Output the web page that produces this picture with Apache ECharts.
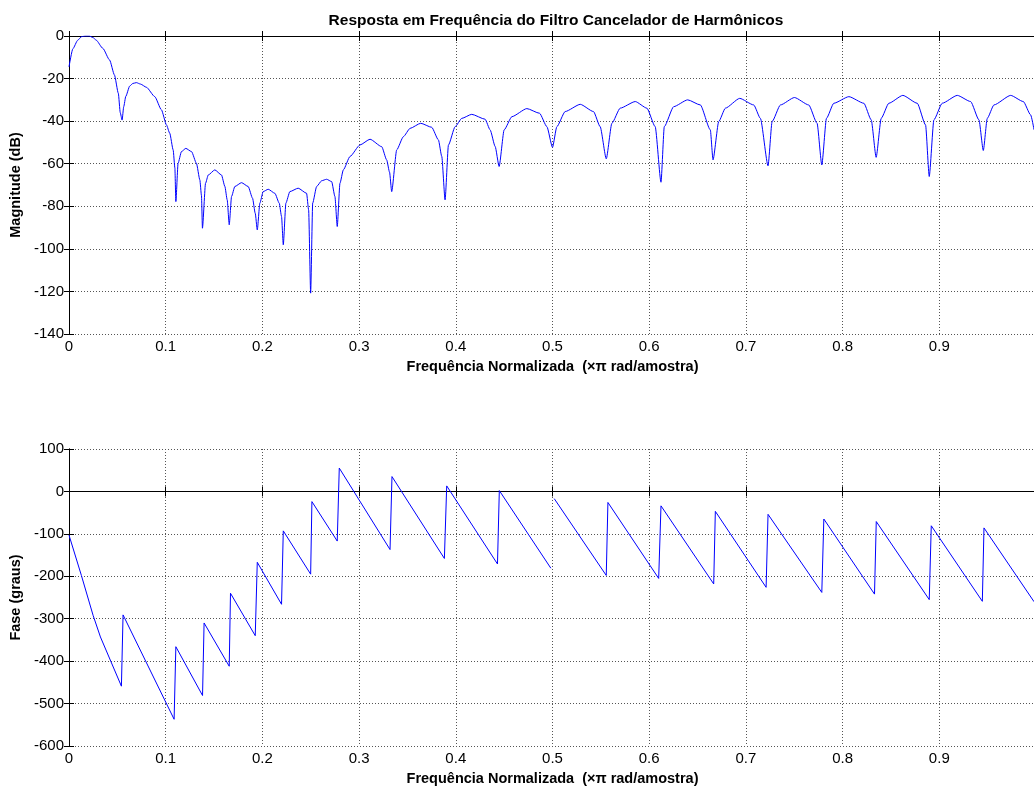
<!DOCTYPE html>
<html>
<head>
<meta charset="utf-8">
<script src="https://cdn.jsdelivr.net/npm/echarts@6/dist/echarts.min.js"></script>
<style>
  html, body { margin: 0; padding: 0; background: #fff; overflow: hidden; }
  /* wider than the window: the plot box runs past the right edge, as in the original */
  #chart { width: 1044px; height: 787px; }
</style>
</head>
<body>
<div id="chart"></div>
<script>
// Magnitude response (normalized freq x pi rad/sample, dB)
const magFreq = [
  0.000, 0.004, 0.009, 0.013, 0.017, 0.021, 0.025, 0.028, 0.035, 0.042, 0.047, 0.051, 0.053, 0.0549,
  0.0566, 0.0587, 0.0628, 0.066, 0.0697, 0.074, 0.0801, 0.0887, 0.0956, 0.1008, 0.1042, 0.1077, 0.1095, 0.1105,
  0.1128, 0.1163, 0.1208, 0.1267, 0.1318, 0.1353, 0.137, 0.138,
  0.1412, 0.144, 0.1508, 0.1577, 0.1612, 0.1636, 0.1657,
  0.1681, 0.1715, 0.1784, 0.1853, 0.1898, 0.1926, 0.1947,
  0.1974, 0.2008, 0.206, 0.2129, 0.2174, 0.2198, 0.2216,
  0.2243, 0.2284, 0.237, 0.2457, 0.2478, 0.2499,
  0.252, 0.2561, 0.2613, 0.2664, 0.2716, 0.275, 0.2774,
  0.2802, 0.2837, 0.2906, 0.3009, 0.3113, 0.3234, 0.3285, 0.3315, 0.3337,
  0.3389, 0.3458, 0.3527, 0.3637, 0.3751, 0.382, 0.3855, 0.3889,
  0.3924, 0.3993, 0.4062, 0.4165, 0.4303, 0.4355, 0.4407, 0.4448,
  0.45, 0.458, 0.4735, 0.4866, 0.4942, 0.5,
  0.5045, 0.5131, 0.5287, 0.5424, 0.5493, 0.5556,
  0.5614, 0.57, 0.5856, 0.5976, 0.6062, 0.6122,
  0.6156, 0.6253, 0.6398, 0.6529, 0.6632, 0.666,
  0.6719, 0.6788, 0.6936, 0.7081, 0.715, 0.7229,
  0.7271, 0.7357, 0.7502, 0.765, 0.7736, 0.7785,
  0.7833, 0.7909, 0.8065, 0.822, 0.8296, 0.8347,
  0.8399, 0.8478, 0.8623, 0.8772, 0.8858, 0.8896,
  0.8944, 0.903, 0.9186, 0.9324, 0.941, 0.9455,
  0.9496, 0.9565, 0.9738, 0.9869, 0.9945, 0.998
]
const magDb = [
  -14.5, -6, -2, -0.3, 0, 0, -0.8, -1.9, -5.8, -11.3, -18.3, -26.9, -36, -39.5,
  -33.2, -28.4, -23.5, -22.3, -21.9, -22.6, -24.1, -28.5, -34.7, -41.8, -45.7, -53.5, -62, -77.8,
  -59.8, -54.3, -52.8, -54.3, -59.8, -67.6, -75, -90.3,
  -69.2, -65.3, -62.9, -65.3, -70.7, -77, -88.7,
  -75.4, -70.7, -68.9, -70.7, -76.2, -83.3, -91.1,
  -78.5, -73.1, -72, -73.9, -78.5, -84.8, -98.1,
  -78.5, -73.1, -71.5, -73.9, -81.7, -120.8,
  -78.5, -70.7, -68, -67.3, -68.4, -75.4, -89.5,
  -69.2, -62.9, -56.6, -51.2, -48.5, -52, -58.2, -64, -73.1,
  -53.5, -47.3, -43.4, -41, -42.9, -48.8, -56.6, -77,
  -51.2, -42.6, -38.7, -36.8, -39.1, -44.1, -51.9, -61.3,
  -44.1, -37.9, -34.1, -36.3, -42.6, -52.3,
  -42.6, -35.5, -32.1, -35.5, -42.6, -57.7,
  -41, -33.9, -30.8, -33.9, -42.6, -68.7,
  -42.6, -33.2, -30, -32.4, -44.1, -58.2,
  -40.2, -33.9, -29.3, -32.4, -38.7, -61,
  -40.2, -32.4, -28.9, -32.4, -41, -60.6,
  -38.7, -31.6, -28.5, -31.6, -39.4, -57,
  -38.7, -31.6, -27.9, -31.6, -41.8, -66,
  -39.4, -31.6, -27.9, -30.8, -39.4, -53.8,
  -38.7, -32.4, -27.9, -30.8, -37.1, -44.1
]

// Phase response (degrees); null = break in the curve
const phaseFreq = [
  0, 0.0128, 0.0249, 0.0325, 0.0542, 0.0559, 0.1087, 0.1105, 0.1381, 0.1397, 0.1657,
  0.167, 0.1926, 0.1947, 0.2198, 0.2216, 0.2499, 0.2512, 0.2774, 0.2795, 0.332,
  0.334, 0.3882, 0.3906, 0.4431, 0.445, 0.4983, 0.5, 0.5018, 0.5556, 0.5573,
  0.6098, 0.6122, 0.6667, 0.6684, 0.7209, 0.7229, 0.7785, 0.7806, 0.833, 0.8348,
  0.8896, 0.8917, 0.9445, 0.9462, 0.998
]
const phaseDeg = [
  -103, -198, -292, -343, -459, -291, -537, -366, -481, -310, -412,
  -240, -340, -167, -266, -93, -195, -24, -117, 55, -137,
  35, -158, 13, -171, 2, -181, null, -17, -198, -26,
  -205, -34, -218, -47, -226, -54, -238, -65, -242, -71,
  -255, -81, -259, -86, -260
]

const title = 'Resposta em Frequência do Filtro Cancelador de Harmônicos'
const xName = 'Frequência Normalizada  (×π rad/amostra)'
const magName = 'Magnitude (dB)'
const phaseName = 'Fase (graus)'

const font = 'Liberation Sans, Arial, sans-serif'
const gridLine = { show: true, lineStyle: { color: '#555', type: [1, 2], width: 1 } }
const axisLine = { show: true, lineStyle: { color: '#000', width: 1 } }
const tick = { show: true, inside: true, length: 5, lineStyle: { color: '#000' } }
const nameStyle = { fontFamily: font, fontSize: 14.5, fontWeight: 'bold', color: '#000' }

function bottomX (gridIndex) {
  return {
    type: 'value', gridIndex, min: 0, max: 1, interval: 0.1, position: 'bottom',
    name: xName, nameLocation: 'middle', nameGap: 25, nameTextStyle: nameStyle,
    axisLine, axisTick: tick, splitLine: gridLine,
    axisLabel: {
      fontFamily: font, fontSize: 15, color: '#000', margin: 5,
      formatter: v => (v > 0.95 ? '' : String(+v.toFixed(1))),
    },
  }
}
function topX (gridIndex) {
  return {
    type: 'value', gridIndex, min: 0, max: 1, interval: 0.1, position: 'top',
    axisLine, axisTick: tick, axisLabel: { show: false }, splitLine: { show: false },
  }
}
function leftY (gridIndex, min, max, interval, name) {
  return {
    type: 'value', gridIndex, min, max, interval, position: 'left',
    name, nameLocation: 'middle', nameGap: 43, nameTextStyle: nameStyle,
    axisLine, axisTick: tick, splitLine: gridLine,
    axisLabel: { fontFamily: font, fontSize: 15, color: '#000', margin: 5 },
  }
}
function rightY (gridIndex, min, max, interval) {
  return {
    type: 'value', gridIndex, min, max, interval, position: 'right',
    axisLine, axisTick: tick, axisLabel: { show: false }, splitLine: { show: false },
  }
}

const chart = echarts.init(document.getElementById('chart'), null, { renderer: 'canvas' })
chart.setOption({
  backgroundColor: '#fff',
  animation: false,
  title: {
    text: title, left: 551, top: 8, textAlign: 'center',
    textStyle: { fontFamily: font, fontSize: 15.5, fontWeight: 'bold', color: '#000' },
  },
  grid: [
    { left: 69, width: 967, top: 36, height: 298 },
    { left: 69, width: 967, top: 449, height: 297 },
  ],
  xAxis: [bottomX(0), bottomX(1), topX(0), topX(1)],
  yAxis: [
    leftY(0, -140, 0, 20, magName),
    leftY(1, -600, 100, 100, phaseName),
    rightY(0, -140, 0, 20),
    rightY(1, -600, 100, 100),
  ],
  series: [
    {
      type: 'line', xAxisIndex: 0, yAxisIndex: 0, showSymbol: false,
      smooth: 0.2, smoothMonotone: 'x',
      lineStyle: { color: '#0000ff', width: 1 },
      data: magFreq.map((f, i) => [f, magDb[i]]),
    },
    {
      type: 'line', xAxisIndex: 1, yAxisIndex: 1, showSymbol: false,
      connectNulls: false,
      lineStyle: { color: '#0000ff', width: 1 },
      data: phaseFreq.map((f, i) => [f, phaseDeg[i] === null ? '-' : phaseDeg[i]]),
    },
  ],
})
</script>
</body>
</html>
